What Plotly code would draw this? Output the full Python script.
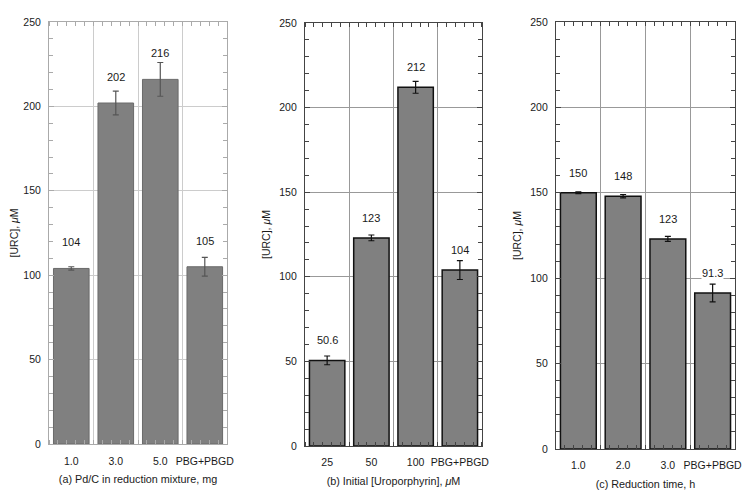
import plotly.graph_objects as go

# bar positions (category index) shared by all three panels
positions = [0, 1, 2, 3]

# (a) Pd/C amount
labels_a = ["1.0", "3.0", "5.0", "PBG+PBGD"]
urc_a = [104, 202, 216, 105]
err_a = [1, 7, 10, 5.5]

# (b) initial uroporphyrin
labels_b = ["25", "50", "100", "PBG+PBGD"]
urc_b = [50.6, 123, 212, 104]
err_b = [2.6, 1.7, 3.5, 5.6]

# (c) reduction time
labels_c = ["1.0", "2.0", "3.0", "PBG+PBGD"]
urc_c = [150, 148, 123, 91.3]
err_c = [0.5, 1.0, 1.5, 5.2]

value_text_a = ["104", "202", "216", "105"]
value_text_b = ["50.6", "123", "212", "104"]
value_text_c = ["150", "148", "123", "91.3"]

FONT = "Liberation Sans, Arial, sans-serif"
INK = "#1a1a1a"

# page body has an 8px margin, so the figure is 742x494 inside the 750x502 window
panels = [
    dict(n="", overlay="4", labels=labels_a, y=urc_a, err=err_a, text=value_text_a,
         title="(a) Pd/C in reduction mixture, mg",
         xdom=[0.0553, 0.2952], ydom=[0.1174, 0.9717],
         line="#aaaaaa", grid="#cccccc", bar_line="#6a6a6a", bar_lw=1, err_col="#555555",
         shift=26),
    dict(n="2", overlay="5", labels=labels_b, y=urc_b, err=err_b, text=value_text_b,
         title="(b) Initial [Uroporphyrin], <i>μ</i>M",
         xdom=[0.4003, 0.6388], ydom=[0.1134, 0.9696],
         line="#444444", grid="#999999", bar_line="#111111", bar_lw=1.5, err_col="#111111",
         shift=20),
    dict(n="3", overlay="6", labels=labels_c, y=urc_c, err=err_c, text=value_text_c,
         title="(c) Reduction time, h",
         xdom=[0.7385, 0.9798], ydom=[0.1073, 0.9717],
         line="#444444", grid="#999999", bar_line="#111111", bar_lw=1.5, err_col="#111111",
         shift=20),
]

fig = go.Figure()
layout = {}
annotations = []

for p in panels:
    n = p["n"]
    fig.add_trace(go.Bar(
        x=positions, y=p["y"], width=0.8,
        xaxis="x" + n, yaxis="y" + n,
        marker=dict(color="#808080", line=dict(color=p["bar_line"], width=p["bar_lw"])),
        error_y=dict(type="data", array=p["err"], color=p["err_col"], thickness=1.2, width=3),
        showlegend=False, hoverinfo="skip",
    ))
    # invisible helper so the overlaid label axis gets drawn
    fig.add_trace(go.Scatter(
        x=positions, y=p["y"], mode="markers", marker=dict(opacity=0),
        xaxis="x" + p["overlay"], yaxis="y" + n, showlegend=False, hoverinfo="skip",
    ))
    # boundary gridlines + minor ticks on the main x axis
    layout["xaxis" + n] = dict(
        domain=p["xdom"], anchor="y" + n, range=[-0.5, 3.5], automargin=False,
        tickmode="array", tickvals=[0.5, 1.5, 2.5], showticklabels=False, ticks="",
        showgrid=True, gridcolor=p["grid"], gridwidth=1, zeroline=False,
        showline=True, linecolor=p["line"], linewidth=1.2, mirror="ticks",
        minor=dict(tickmode="linear", tick0=-0.5, dtick=0.2, ticks="inside",
                   ticklen=4, tickcolor=p["line"], showgrid=False),
    )
    # category labels and axis title on an overlaid axis
    layout["xaxis" + p["overlay"]] = dict(
        overlaying="x" + n, anchor="y" + n, range=[-0.5, 3.5], automargin=False,
        tickmode="array", tickvals=positions, ticktext=p["labels"], ticks="",
        showgrid=False, zeroline=False, showline=False, ticklabelstandoff=9,
        tickfont=dict(family=FONT, size=10.5, color=INK),
        title=dict(text=p["title"], font=dict(family=FONT, size=10.8, color=INK), standoff=9),
    )
    layout["yaxis" + n] = dict(
        domain=p["ydom"], anchor="x" + n, range=[0, 250], automargin=False,
        tickmode="linear", tick0=0, dtick=50, ticks="inside", ticklen=5,
        tickcolor=p["line"], showgrid=True, gridcolor=p["grid"], gridwidth=1,
        zeroline=False, showline=True, linecolor=p["line"], linewidth=1.2, mirror="ticks",
        minor=dict(tickmode="linear", tick0=0, dtick=10, ticks="inside", ticklen=4,
                   tickcolor=p["line"], showgrid=False),
        tickfont=dict(family=FONT, size=10.5, color=INK), ticklabelstandoff=5,
        title=dict(text="[URC], <i>μ</i>M", font=dict(family=FONT, size=10.5, color=INK),
                   standoff=6),
    )
    for xv, yv, t in zip(positions, p["y"], p["text"]):
        annotations.append(dict(
            x=xv, y=yv, xref="x" + n, yref="y" + n, text=t, showarrow=False,
            yshift=p["shift"], yanchor="middle", bgcolor="white", borderpad=0,
            font=dict(family=FONT, size=11, color=INK),
        ))

fig.update_layout(
    width=742, height=494,
    margin=dict(l=0, r=0, t=0, b=0),
    paper_bgcolor="white", plot_bgcolor="white",
    annotations=annotations,
    **layout,
)

fig.write_html("out.html")
